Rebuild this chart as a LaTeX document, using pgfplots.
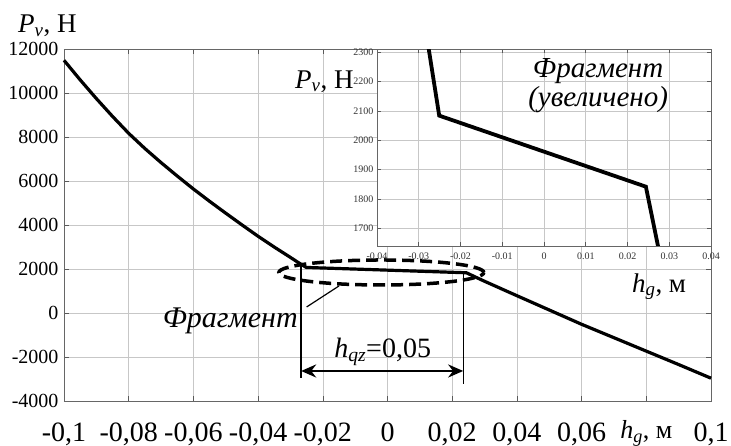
\documentclass[border=0pt]{standalone}
\usepackage{fontspec}
\setmainfont{Liberation Serif}
\usepackage{pgfplots}
\usepackage{pgfplotstable}
\pgfplotsset{compat=1.18}
\usetikzlibrary{arrows.meta}

% axis captions: force P_v in newtons, displacement h_g in metres
\newcommand{\Pv}{\textit{P}\textsubscript{\textit{v}}, Н}
\newcommand{\hg}{\textit{h}\textsubscript{\textit{g}}, м}

% force characteristic P_v(h_g)
\pgfplotstableread{
x        y
-0.1     11500
-0.095   10610
-0.09    9760
-0.085   8950
-0.08    8180
-0.075   7490
-0.07    6850
-0.065   6240
-0.06    5650
-0.055   5090
-0.05    4550
-0.045   4020
-0.04    3500
-0.035   3010
-0.03    2540
-0.0276  2310
-0.0251  2084
0.0244   1842
0.0273   1640
0.03     1455
0.04     800
0.05     150
0.06     -500
0.07     -1110
0.08     -1720
0.09     -2330
0.1      -2950
}\pvcurve

\begin{document}
\begin{tikzpicture}
\path[use as bounding box] (-64pt,-44.7pt) rectangle (667pt,401.3pt);

% ---------- full range ----------
\begin{axis}[
  at={(0,0)}, anchor=south west,
  scale only axis, width=647pt, height=352pt,
  xmin=-0.1, xmax=0.1, ymin=-4000, ymax=12000,
  scaled ticks=false,
  xtick={-0.1,-0.08,-0.06,-0.04,-0.02,0,0.02,0.04,0.06,0.08,0.1},
  xticklabels={{-0,1},{-0,08},{-0,06},{-0,04},{-0,02},{0},{0,02},{0,04},{0,06},{\raisebox{3pt}{\fontsize{26}{26}\selectfont\hg}},{0,1}},
  ytick={-4000,-2000,0,2000,4000,6000,8000,10000,12000},
  yticklabels={-4000,-2000,0,2000,4000,6000,8000,10000,12000},
  grid=major,
  major grid style={black!22, line width=0.6pt},
  axis line style={black!60, line width=0.8pt},
  tick style={black!65, line width=0.6pt},
  major tick length=5pt, tick align=inside,
  xticklabel style={font=\fontsize{28}{28}\selectfont, anchor=base, yshift=-40pt},
  yticklabel style={font=\fontsize{20}{20}\selectfont, xshift=-2pt},
  clip=false,
]
\addplot[black, line width=3.2pt, line join=round] table[x=x, y=y] {\pvcurve};

% P_v caption
\node[anchor=base west, font=\fontsize{27}{27}\selectfont, inner sep=0pt]
  at (rel axis cs:-0.0711,1.0463) {\Pv};

% dead zone marks
\draw[line width=1.4pt] (axis cs:-0.0267,2200) -- (axis cs:-0.0267,-2940);
\draw[line width=1.4pt] (axis cs:0.0234,1860) -- (axis cs:0.0234,-3210);
\draw[{Stealth[length=15pt,width=13pt]}-{Stealth[length=15pt,width=13pt]}, line width=2.6pt]
  (axis cs:-0.0267,-2622) -- (axis cs:0.0234,-2622);
\node[anchor=base, font=\fontsize{28}{28}\selectfont, inner sep=0pt]
  at (axis cs:-0.0015,-2030) {\textit{h}\textsubscript{\textit{qz}}=0,05};

% fragment marker
\draw[line width=3.5pt, dash pattern=on 12pt off 6pt]
  (axis cs:-0.0019,1855) ellipse [x radius=102.5pt, y radius=12.5pt];
\draw[line width=1.2pt] (axis cs:-0.0250,287) -- (axis cs:-0.0150,1242);
\node[anchor=base east, font=\fontsize{30}{30}\selectfont\itshape, inner sep=0pt]
  at (axis cs:-0.0277,-667) {Фрагмент};
\end{axis}

% ---------- magnified fragment ----------
\begin{axis}[
  at={(313pt,155.3pt)}, anchor=south west,
  scale only axis, width=334pt, height=196.7pt,
  xmin=-0.04, xmax=0.04, ymin=1640, ymax=2310,
  scaled ticks=false,
  xtick={-0.04,-0.03,-0.02,-0.01,0,0.01,0.02,0.03,0.04},
  xticklabels={-0.04,-0.03,-0.02,-0.01,0,0.01,0.02,0.03,0.04},
  ytick={1700,1800,1900,2000,2100,2200,2300},
  yticklabels={1700,1800,1900,2000,2100,2200,2300},
  axis background/.style={fill=white},
  grid=major,
  major grid style={black!22, line width=0.6pt},
  axis line style={black!60, line width=0.8pt},
  tick style={black!65, line width=0.6pt},
  major tick length=4pt, tick align=inside,
  tick label style={font=\fontsize{10}{10}\selectfont, text=black!80},
  xticklabel style={yshift=-3pt},
  clip mode=individual,
]
\addplot[black, line width=3.8pt, line join=miter] table[x=x, y=y] {\pvcurve};

\node[anchor=base, font=\fontsize{29}{29}\selectfont\itshape, inner sep=0pt]
  at (rel axis cs:0.662,0.854) {Фрагмент};
\node[anchor=base, font=\fontsize{29}{29}\selectfont\itshape, inner sep=0pt]
  at (rel axis cs:0.662,0.707) {(увеличено)};
\node[anchor=base west, font=\fontsize{27}{27}\selectfont, inner sep=0pt]
  at (rel axis cs:-0.2455,0.803) {\Pv};
\node[anchor=base west, font=\fontsize{27}{27}\selectfont, inner sep=0pt]
  at (rel axis cs:0.763,-0.234) {\hg};
\end{axis}
\end{tikzpicture}
\end{document}
